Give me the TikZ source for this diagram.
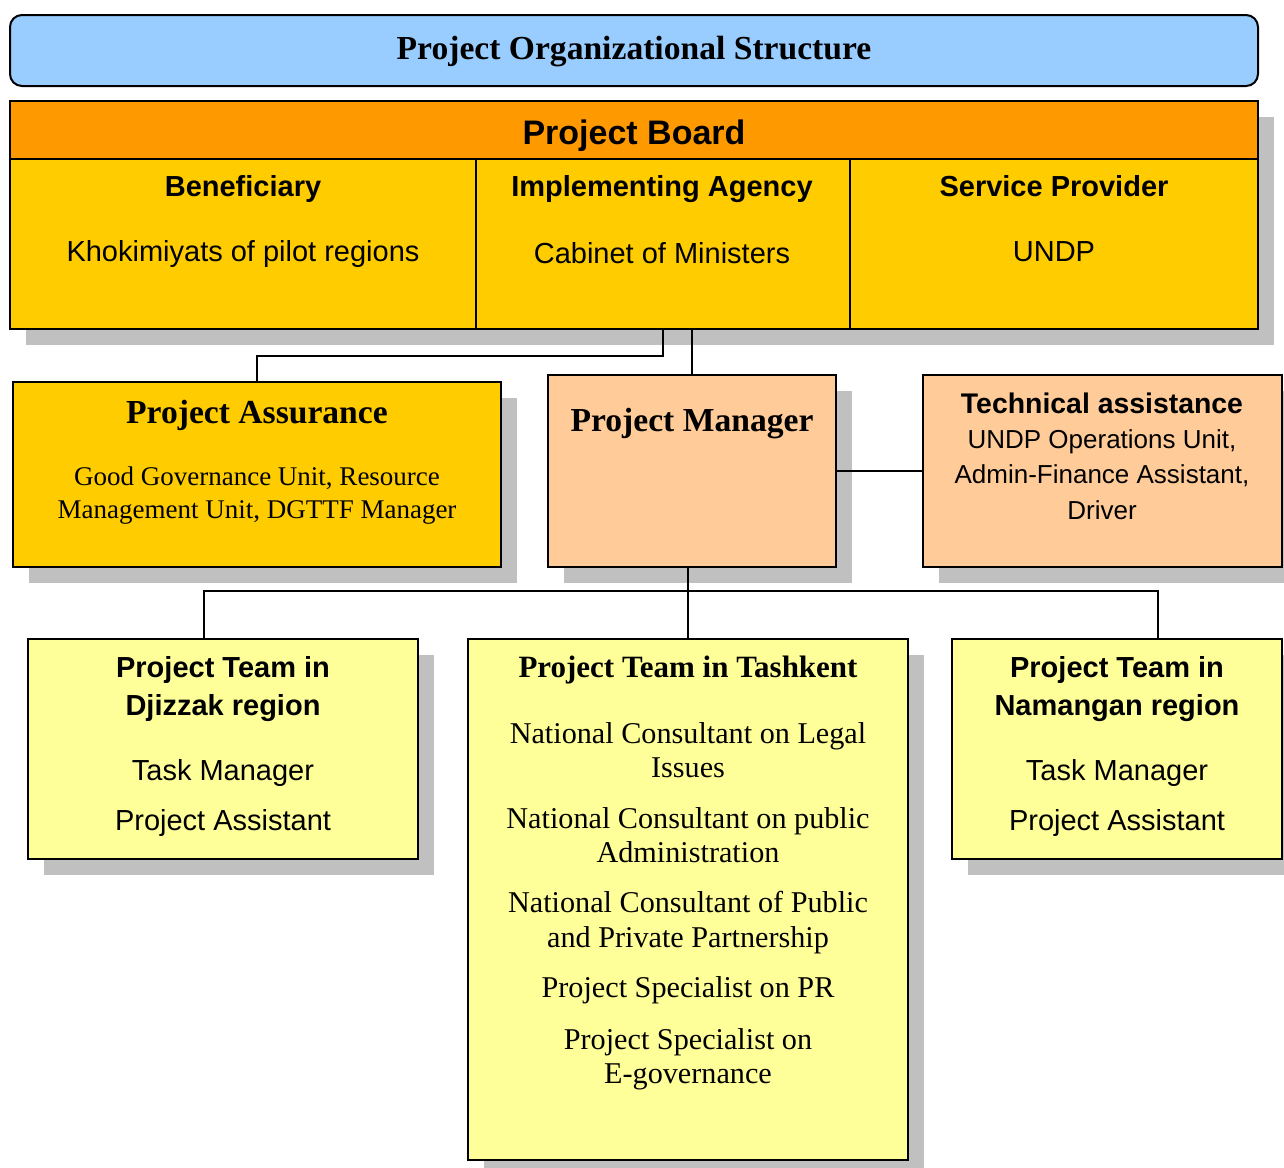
\documentclass[tikz,border=0pt]{standalone}
\usepackage{fontspec}
\setmainfont{Liberation Serif}
\setsansfont{Liberation Sans}
\usetikzlibrary{shadows}

\definecolor{titleblue}{HTML}{99CCFF}
\definecolor{boardorange}{HTML}{FF9900}
\definecolor{boardgold}{HTML}{FFCC00}
\definecolor{peach}{HTML}{FFCC99}
\definecolor{teamyellow}{HTML}{FFFF99}
\definecolor{shadowgray}{RGB}{192,192,192}

\tikzset{
  box/.style={draw, line width=1pt, inner sep=0pt},
  shadowed/.style={drop shadow={shadow xshift=8pt, shadow yshift=-8pt, fill=shadowgray, opacity=1}},
  conn/.style={line width=0.8pt},
  lbl/.style={anchor=base, inner sep=0pt},
  sfreg/.style={lbl, font=\sffamily\fontsize{14.5}{17}\selectfont},
  sfhead/.style={lbl, font=\sffamily\bfseries\fontsize{14.5}{17}\selectfont},
  rmhead/.style={lbl, font=\bfseries\fontsize{16.8}{19}\selectfont},
  tkbody/.style={lbl, font=\fontsize{15.1}{17}\selectfont},
}

\begin{document}
\begin{tikzpicture}[x=0.5pt, y=-0.5pt]
  \useasboundingbox (0,0) rectangle (1284,1167);
  % Title bar
  \node[box, fill=titleblue, rounded corners=6pt, minimum width=624pt, minimum height=35.5pt] (title) at (634,50.5) {};
  \node[rmhead] (title-t) at (634,59) {Project Organizational Structure};
  % Project board with its three cells
  \node[box, shadowed, fill=boardgold, minimum width=624pt, minimum height=114pt] (board) at (634,215) {};
  \node[box, fill=boardorange, minimum width=624pt, minimum height=29pt] (boardhead) at (634,130) {};
  \node[lbl, font=\sffamily\bfseries\fontsize{17}{20}\selectfont] (boardhead-t) at (634,144) {Project Board};
  \node[box, fill=boardgold, minimum width=233pt, minimum height=85pt] (bene) at (243,244) {};
  \node[box, fill=boardgold, minimum width=187pt, minimum height=85pt] (impl) at (663,244) {};
  \node[box, fill=boardgold, minimum width=204pt, minimum height=85pt] (serv) at (1054,244) {};
  \node[sfhead] (bene-h) at (243,196) {Beneficiary};
  \node[sfreg] (bene-t) at (243,261) {Khokimiyats of pilot regions};
  \node[sfhead] (impl-h) at (662,196) {Implementing Agency};
  \node[sfreg] (impl-t) at (662,263) {Cabinet of Ministers};
  \node[sfhead] (serv-h) at (1054,196) {Service Provider};
  \node[sfreg] (serv-t) at (1054,261) {UNDP};
  % Second row
  \node[box, shadowed, fill=boardgold, minimum width=244pt, minimum height=92.5pt] (pa) at (257,474.5) {};
  \node[rmhead] (pa-h) at (257,423) {Project Assurance};
  \node[lbl, font=\fontsize{13.5}{16}\selectfont] (pa-t1) at (257,485.5) {Good Governance Unit, Resource};
  \node[lbl, font=\fontsize{13.5}{16}\selectfont] (pa-t2) at (257,518) {Management Unit, DGTTF Manager};
  \node[box, shadowed, fill=peach, minimum width=144pt, minimum height=96pt] (pm) at (692,471) {};
  \node[rmhead] (pm-h) at (692,431) {Project Manager};
  \node[box, shadowed, fill=peach, minimum width=179.5pt, minimum height=96pt] (ta) at (1102.5,471) {};
  \node[lbl, font=\sffamily\bfseries\fontsize{14.2}{17}\selectfont] (ta-h) at (1102,413) {Technical assistance};
  \node[lbl, font=\sffamily\fontsize{13}{16}\selectfont] (ta-t1) at (1102,448) {UNDP Operations Unit,};
  \node[lbl, font=\sffamily\fontsize{13}{16}\selectfont] (ta-t2) at (1102,483) {Admin-Finance Assistant,};
  \node[lbl, font=\sffamily\fontsize{13}{16}\selectfont] (ta-t3) at (1102,519) {Driver};
  % Project teams
  \node[box, shadowed, fill=teamyellow, minimum width=195pt, minimum height=110pt] (dj) at (223,749) {};
  \node[sfhead] (dj-h1) at (223,677) {Project Team in};
  \node[sfhead] (dj-h2) at (223,715) {Djizzak region};
  \node[sfreg] (dj-t1) at (223,780) {Task Manager};
  \node[sfreg] (dj-t2) at (223,830) {Project Assistant};
  \node[box, shadowed, fill=teamyellow, minimum width=220pt, minimum height=260.5pt] (tk) at (688,899.5) {};
  \node[lbl, font=\bfseries\fontsize{15.5}{18}\selectfont] (tk-h) at (688,677) {Project Team in Tashkent};
  \foreach \yy/\txt [count=\i] in {743/National Consultant on Legal, 777/Issues,
      828/National Consultant on public, 862/Administration,
      912/National Consultant of Public, 947/and Private Partnership,
      997/Project Specialist on PR, 1049/Project Specialist on, 1083/E-governance}
    \node[tkbody] (tk-\i) at (688,\yy) {\txt};
  \node[box, shadowed, fill=teamyellow, minimum width=165pt, minimum height=110pt] (nm) at (1117,749) {};
  \node[sfhead] (nm-h1) at (1117,677) {Project Team in};
  \node[sfhead] (nm-h2) at (1117,715) {Namangan region};
  \node[sfreg] (nm-t1) at (1117,780) {Task Manager};
  \node[sfreg] (nm-t2) at (1117,830) {Project Assistant};
  % Connectors
  \draw[conn] (impl.south) -- ++(0,26) -| (pa.north);
  \draw[conn] (pm.north) -- (pm.north |- board.south);
  \draw[conn] (pm.east) -- (ta.west);
  \coordinate (busL) at (204,591);
  \coordinate (busR) at (1158,591);
  \draw[conn] (tk.north) -- (tk.north |- pm.south);
  \draw[conn] (busL |- dj.north) -- (busL) -- (busR) -- (busR |- nm.north);
\end{tikzpicture}
\end{document}
